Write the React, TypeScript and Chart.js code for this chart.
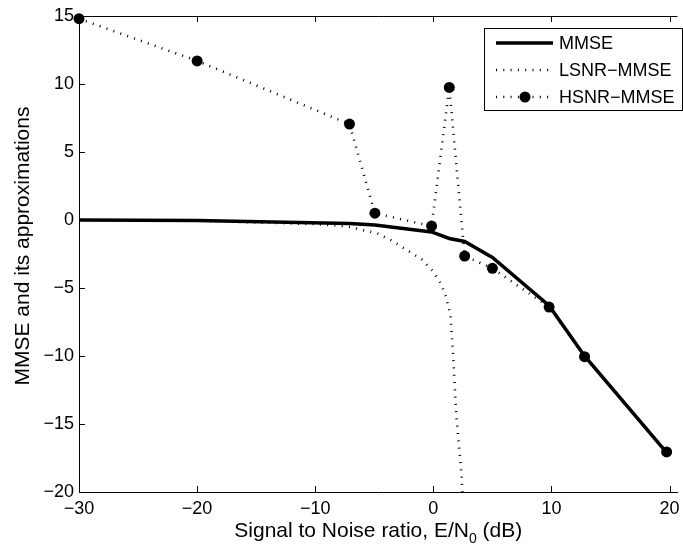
import React, { useEffect, useRef } from 'react';
import { Chart, registerables } from 'chart.js';

Chart.register(...registerables);

// ---- data ----
const snrDb = [-30, -20, -7.1, -4.95, -0.15, 1.35, 2.65, 5.0, 9.8, 12.8, 19.75];
const mmse = [0.0, -0.03, -0.25, -0.37, -0.88, -1.36, -1.58, -2.75, -6.3, -10.0, -17.1];
const hsnrMmse = [14.8, 11.7, 7.05, 0.5, -0.45, 9.75, -2.65, -3.55, -6.4, -10.05, -17.05];

const lsnrDb = [-30, -20, -10, -8, -7, -6, -4.75, -3.5, -2.25, -1, 0, 0.7, 1.1, 1.45, 1.65, 1.95, 2.4, 2.55];
const lsnrMmse = [-0.02, -0.06, -0.3, -0.42, -0.52, -0.74, -0.98, -1.52, -2.21, -2.89, -3.8, -4.78, -5.76, -7.0, -9.6, -14.5, -18.8, -22];

const seriesLabels = ['MMSE', 'LSNR\u2212MMSE', 'HSNR\u2212MMSE'];

const xTickValues = [-30, -20, -10, 0, 10, 20];
const xTickLabels = ['\u221230', '\u221220', '\u221210', '0', '10', '20'];
const yTickValues = [15, 10, 5, 0, -5, -10, -15, -20];
const yTickLabels = ['15', '10', '5', '0', '\u22125', '\u221210', '\u221215', '\u221220'];

const xTitleMain = 'Signal to Noise ratio, E/N';
const xTitleSub = '0';
const xTitleTail = ' (dB)';
const yTitle = 'MMSE and its approximations';

const FONT = '"Liberation Sans", Arial, Helvetica, sans-serif';
const DOT_DASH = [1, 6.3];
const DOT_WIDTH = 2.6;

export default function App() {
  const ref = useRef<HTMLCanvasElement>(null);

  useEffect(() => {
    document.body.style.margin = '0';
    const canvas = ref.current;
    if (!canvas) return;

    const pairs = (xs: number[], ys: number[]) => xs.map((x, i) => ({ x, y: ys[i] }));

    const framePlugin = {
      id: 'frame',
      afterDraw(chart: any) {
        const ctx = chart.ctx as CanvasRenderingContext2D;
        const { left, right, top, bottom } = chart.chartArea;
        const xs = chart.scales.x;
        const ys = chart.scales.y;
        ctx.save();
        ctx.strokeStyle = '#000';
        ctx.lineWidth = 1;
        ctx.setLineDash([]);
        ctx.lineCap = 'butt';
        // top frame line
        ctx.beginPath();
        ctx.moveTo(left, Math.round(top) + 0.5);
        ctx.lineTo(right, Math.round(top) + 0.5);
        ctx.stroke();
        // inward ticks
        ctx.beginPath();
        xTickValues.forEach((v) => {
          const px = Math.round(xs.getPixelForValue(v)) + 0.5;
          ctx.moveTo(px, bottom);
          ctx.lineTo(px, bottom - 6);
          ctx.moveTo(px, top);
          ctx.lineTo(px, top + 6);
        });
        yTickValues.forEach((v) => {
          const py = Math.round(ys.getPixelForValue(v)) + 0.5;
          ctx.moveTo(left, py);
          ctx.lineTo(left + 6, py);
        });
        ctx.stroke();

        // x title with subscript
        ctx.fillStyle = '#000';
        ctx.textBaseline = 'alphabetic';
        ctx.textAlign = 'left';
        const bigFont = `21px ${FONT}`;
        const smallFont = `14px ${FONT}`;
        ctx.font = bigFont;
        const w1 = ctx.measureText(xTitleMain).width;
        const w3 = ctx.measureText(xTitleTail).width;
        ctx.font = smallFont;
        const w2 = ctx.measureText(xTitleSub).width;
        const total = w1 + w2 + w3;
        const cx = (left + right) / 2;
        let tx = cx - total / 2;
        const baseY = 537;
        ctx.font = bigFont;
        ctx.fillText(xTitleMain, tx, baseY);
        tx += w1;
        ctx.font = smallFont;
        ctx.fillText(xTitleSub, tx, baseY + 6);
        tx += w2;
        ctx.font = bigFont;
        ctx.fillText(xTitleTail, tx, baseY);

        // y title
        ctx.save();
        ctx.translate(29, 246);
        ctx.rotate(-Math.PI / 2);
        ctx.textAlign = 'center';
        ctx.font = bigFont;
        ctx.fillText(yTitle, 0, 0);
        ctx.restore();

        // legend
        const bx = 484.5, by = 28.5, bw = 198, bh = 82;
        ctx.fillStyle = '#fff';
        ctx.fillRect(bx, by, bw, bh);
        ctx.strokeStyle = '#000';
        ctx.lineWidth = 1;
        ctx.strokeRect(bx, by, bw, bh);
        const rows = [43, 70, 97];
        chart.data.datasets.forEach((ds: any, i: number) => {
          const y = rows[i];
          ctx.save();
          ctx.strokeStyle = ds.borderColor;
          ctx.lineWidth = ds.borderWidth;
          ctx.setLineDash(ds.borderDash || []);
          ctx.beginPath();
          ctx.moveTo(496, y);
          ctx.lineTo(553, y);
          ctx.stroke();
          if (ds.pointRadius > 0) {
            ctx.setLineDash([]);
            ctx.fillStyle = ds.pointBackgroundColor;
            ctx.beginPath();
            ctx.arc(525, y, ds.pointRadius, 0, Math.PI * 2);
            ctx.fill();
          }
          ctx.restore();
          ctx.fillStyle = '#000';
          ctx.font = `18px ${FONT}`;
          ctx.textAlign = 'left';
          ctx.textBaseline = 'middle';
          ctx.fillText(ds.label, 559, y + 1);
        });
        ctx.restore();
      },
    };

    const chart = new Chart(canvas, {
      type: 'line',
      data: {
        datasets: [
          {
            label: seriesLabels[0],
            data: pairs(snrDb, mmse),
            borderColor: '#000',
            borderWidth: 3.5,
            pointRadius: 0,
            pointHoverRadius: 0,
            tension: 0,
            order: 2,
          },
          {
            label: seriesLabels[1],
            data: pairs(lsnrDb, lsnrMmse),
            borderColor: '#000',
            borderWidth: DOT_WIDTH,
            borderDash: DOT_DASH,
            borderCapStyle: 'butt',
            pointRadius: 0,
            pointHoverRadius: 0,
            tension: 0,
            order: 1,
          },
          {
            label: seriesLabels[2],
            data: pairs(snrDb, hsnrMmse),
            borderColor: '#000',
            borderWidth: DOT_WIDTH,
            borderDash: DOT_DASH,
            borderCapStyle: 'butt',
            pointRadius: 5.5,
            pointHoverRadius: 5.5,
            pointBackgroundColor: '#000',
            pointBorderColor: '#000',
            pointBorderWidth: 0,
            tension: 0,
            order: 0,
            clip: false,
          },
        ] as any,
      },
      options: {
        responsive: false,
        animation: false,
        devicePixelRatio: 1,
        events: [],
        layout: { padding: { top: 16, left: 0, right: 0, bottom: 0 } },
        plugins: {
          legend: { display: false },
          tooltip: { enabled: false },
          title: { display: false },
        },
        scales: {
          x: {
            type: 'linear',
            min: -30,
            max: 20.67,
            grid: { display: false, drawTicks: false },
            border: { display: true, color: '#000', width: 1 },
            ticks: {
              color: '#000',
              font: { family: FONT, size: 18 },
              padding: 6,
              maxRotation: 0,
              autoSkip: false,
              callback: (v: any) => {
                const i = xTickValues.indexOf(Number(v));
                return i >= 0 ? xTickLabels[i] : '';
              },
            },
            afterBuildTicks: (scale: any) => {
              scale.ticks = xTickValues.map((v) => ({ value: v }));
            },
            afterFit: (scale: any) => {
              scale.height = 58;
              scale.paddingLeft = 0;
              scale.paddingRight = 0;
            },
          },
          y: {
            type: 'linear',
            min: -20,
            max: 15,
            grid: { display: false, drawTicks: false },
            border: { display: true, color: '#000', width: 1 },
            ticks: {
              color: '#000',
              font: { family: FONT, size: 18 },
              padding: 5,
              autoSkip: false,
              callback: (v: any) => {
                const i = yTickValues.indexOf(Number(v));
                return i >= 0 ? yTickLabels[i] : '';
              },
            },
            afterBuildTicks: (scale: any) => {
              scale.ticks = yTickValues.map((v) => ({ value: v }));
            },
            afterFit: (scale: any) => {
              scale.width = 79;
              scale.paddingTop = 0;
              scale.paddingBottom = 0;
            },
          },
        },
      } as any,
      plugins: [framePlugin],
    });

    return () => chart.destroy();
  }, []);

  return (
    <canvas
      ref={ref}
      width={683}
      height={550}
      style={{ display: 'block', width: '683px', height: '550px' }}
    />
  );
}
